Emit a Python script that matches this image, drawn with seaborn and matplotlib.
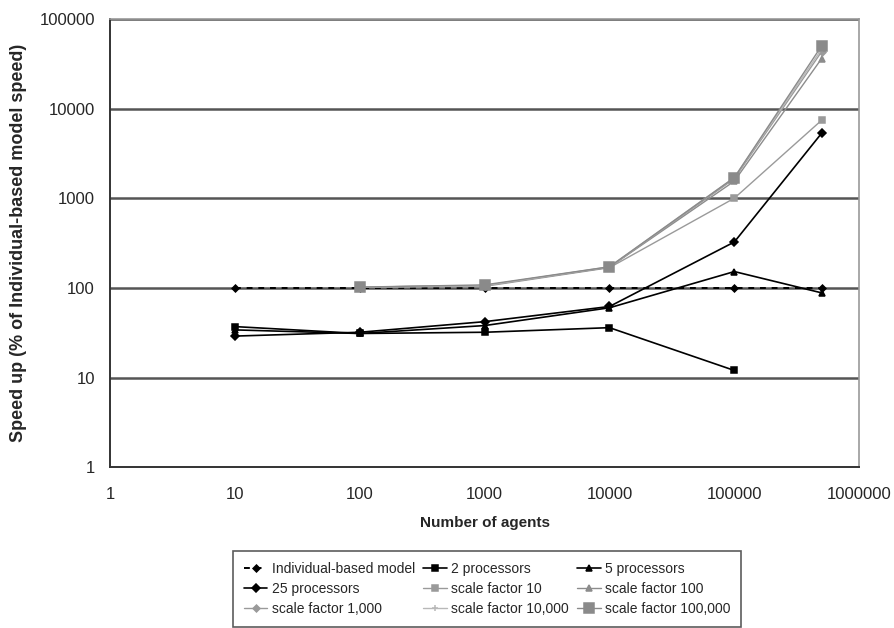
import matplotlib
matplotlib.use("Agg")
import matplotlib.pyplot as plt
import matplotlib.ticker as mticker
import pandas as pd
import seaborn as sns

# number of agents (x) for each series
agents_all = [10, 100, 1000, 10000, 100000, 500000]
agents_2p = [10, 100, 1000, 10000, 100000]
agents_sf = [100, 1000, 10000, 100000, 500000]

# speed up (% of individual-based model speed)
ibm = [100, 100, 100, 100, 100, 100]
proc2 = [37, 31, 32, 36, 12]
proc5 = [34, 31, 38, 60, 152, 88]
proc25 = [29, 32, 42, 62, 325, 5300]
sf10 = [102, 104, 168, 1000, 7400]
sf100 = [102, 106, 170, 1550, 36000]
sf1000 = [102, 106, 170, 1650, 43000]
sf10000 = [102, 106, 172, 1700, 46000]
sf100000 = [102, 108, 172, 1700, 50000]

series = [
    ("Individual-based model", agents_all, ibm, "black", "D", 3.5, (0, (3, 3)), 1.4),
    ("2 processors", agents_2p, proc2, "black", "s", 4.5, "-", 1.2),
    ("5 processors", agents_all, proc5, "black", "^", 5, "-", 1.2),
    ("25 processors", agents_all, proc25, "black", "D", 4, "-", 1.2),
    ("scale factor 10", agents_sf, sf10, "#9a9a9a", "s", 4, "-", 1.0),
    ("scale factor 100", agents_sf, sf100, "#8c8c8c", "^", 4.5, "-", 1.0),
    ("scale factor 1,000", agents_sf, sf1000, "#9a9a9a", "D", 3.5, "-", 1.0),
    ("scale factor 10,000", agents_sf, sf10000, "#b8b8b8", "+", 5, "-", 1.0),
    ("scale factor 100,000", agents_sf, sf100000, "#8a8a8a", "s", 6.5, "-", 1.0),
]

sns.set_style("white")
plt.rcParams["font.family"] = ["Liberation Sans", "DejaVu Sans"]

fig = plt.figure(figsize=(8.95, 6.28), dpi=100)
ax = fig.add_axes([0.123, 0.256, 0.837, 0.714])

ax.set_xscale("log")
ax.set_yscale("log")

handles = {}
for name, xs, ys, color, marker, ms, ls, lw in series:
    df = pd.DataFrame({"agents": xs, "speed": ys})
    sns.lineplot(data=df, x="agents", y="speed", ax=ax, color=color,
                 marker=marker, markersize=ms, linestyle=ls, linewidth=lw,
                 markeredgecolor=color, markeredgewidth=1.1, label=name)
    handles[name] = ax.get_lines()[-1]

ax.set_xlim(1, 1000000)
ax.set_ylim(1, 100000)

xt = [1, 10, 100, 1000, 10000, 100000, 1000000]
yt = [1, 10, 100, 1000, 10000, 100000]
ax.xaxis.set_major_locator(mticker.FixedLocator(xt))
ax.yaxis.set_major_locator(mticker.FixedLocator(yt))
ax.xaxis.set_minor_locator(mticker.NullLocator())
ax.yaxis.set_minor_locator(mticker.NullLocator())
fmt = mticker.FuncFormatter(lambda v, p: f"{int(round(v))}")
ax.xaxis.set_major_formatter(fmt)
ax.yaxis.set_major_formatter(fmt)

for y in yt[1:]:
    ax.axhline(y, color="#555555", linewidth=1.8, zorder=0)

ax.tick_params(axis="both", direction="out", length=5, width=1.2,
               labelsize=12, color="#333333", pad=6)
ax.tick_params(axis="x", pad=9)
for side in ["left", "bottom"]:
    ax.spines[side].set_color("#333333")
    ax.spines[side].set_linewidth(1.4)
for side in ["right", "top"]:
    ax.spines[side].set_color("#999999")
    ax.spines[side].set_linewidth(1.2)

ax.set_xlabel("Number of agents", fontsize=11, fontweight="bold", labelpad=10)
ax.set_ylabel("Speed up (% of Individual-based model speed)", fontsize=13,
              fontweight="bold", labelpad=9)

ax.get_legend().remove()
order = ["Individual-based model", "25 processors", "scale factor 1,000",
         "2 processors", "scale factor 10", "scale factor 10,000",
         "5 processors", "scale factor 100", "scale factor 100,000"]
leg = fig.legend([handles[n] for n in order], order, ncol=3,
                 loc="upper left", bbox_to_anchor=(0.253, 0.133),
                 fontsize=10, frameon=True, fancybox=False, edgecolor="#333333",
                 handlelength=1.7, handletextpad=0.3, columnspacing=0.6,
                 labelspacing=0.45, borderpad=0.75)
leg.get_frame().set_linewidth(1.2)

fig.savefig("out.png", dpi=100)
